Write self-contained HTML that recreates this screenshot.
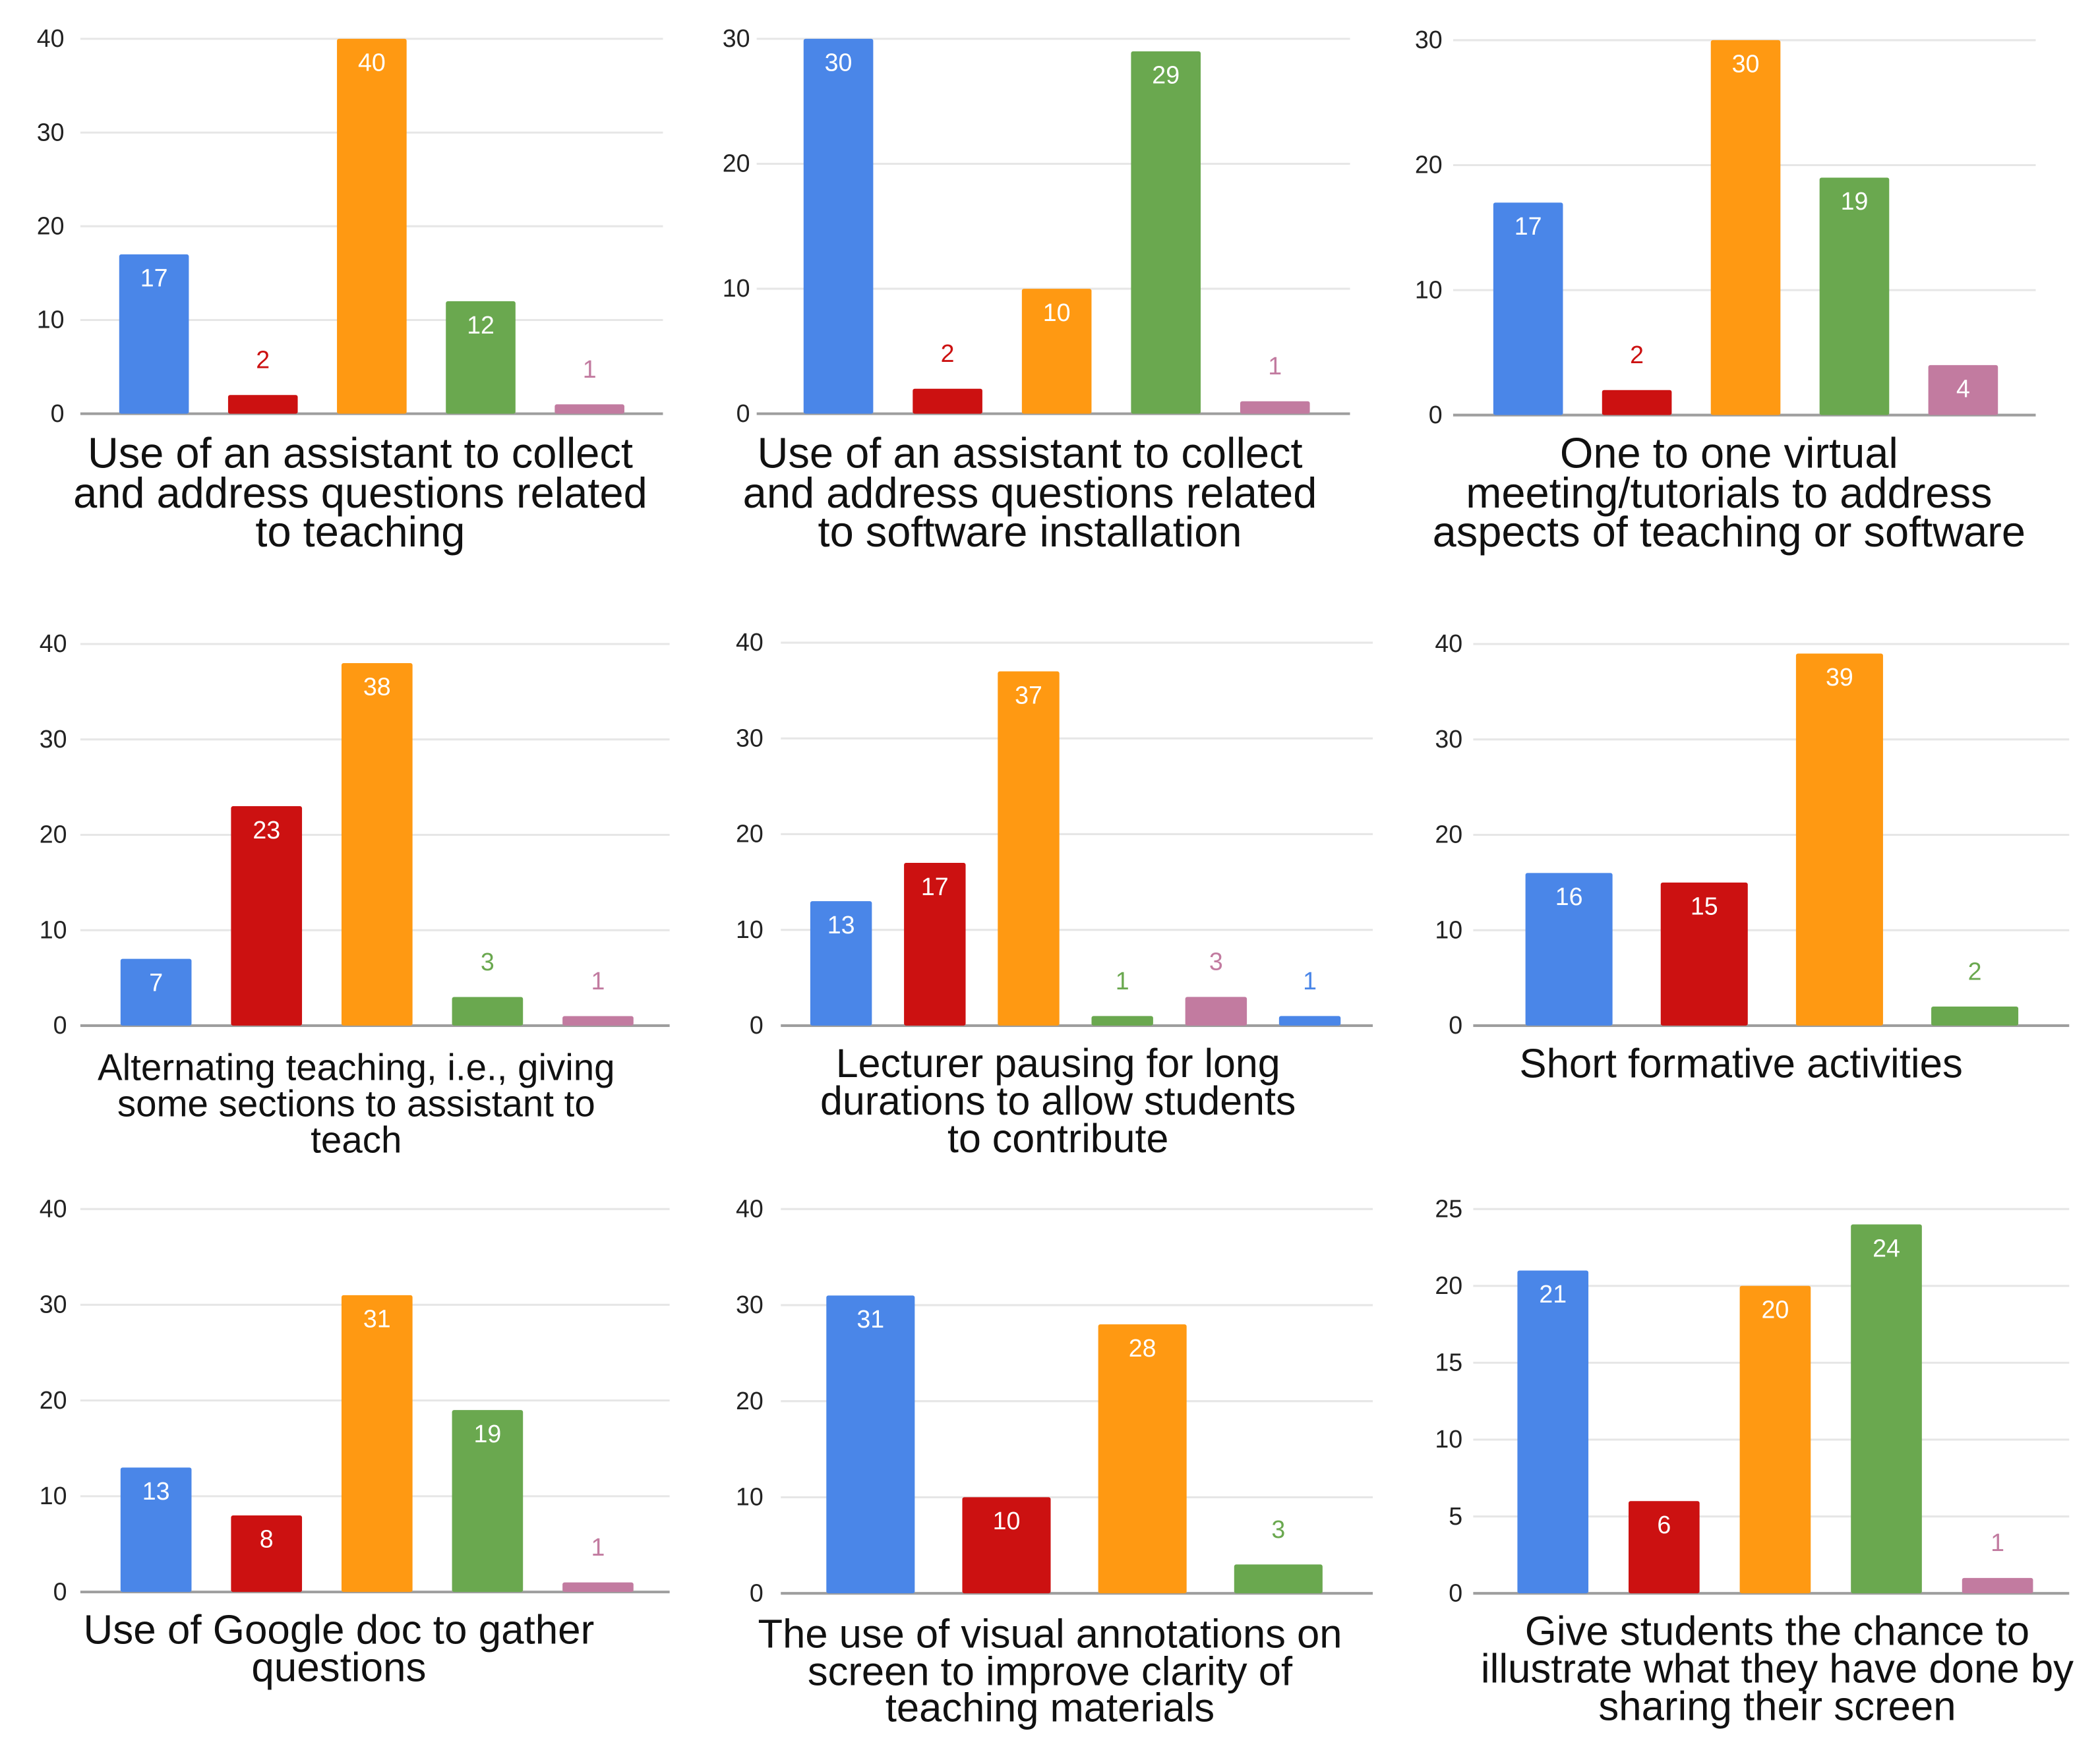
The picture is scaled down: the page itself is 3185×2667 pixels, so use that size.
<!DOCTYPE html>
<html><head><meta charset="utf-8">
<style>
html,body{margin:0;padding:0;background:#fff;}
svg{display:block;}
text{font-family:"Liberation Sans",Arial,sans-serif;}
</style></head>
<body>
<svg id="chart" width="3185" height="2667" viewBox="0 0 1568 1313" preserveAspectRatio="none" xmlns="http://www.w3.org/2000/svg"></svg>
<script>
// ---- data ----
const values1 = [17, 2, 40, 12, 1];
const values2 = [30, 2, 10, 29, 1];
const values3 = [17, 2, 30, 19, 4];
const values4 = [7, 23, 38, 3, 1];
const values5 = [13, 17, 37, 1, 3, 1];
const values6 = [16, 15, 39, 2];
const values7 = [13, 8, 31, 19, 1];
const values8 = [31, 10, 28, 3];
const values9 = [21, 6, 20, 24, 1];
const ticks40 = [0, 10, 20, 30, 40];
const ticks30 = [0, 10, 20, 30];
const ticks25 = [0, 5, 10, 15, 20, 25];
const titles = [
  ["Use of an assistant to collect","and address questions related","to teaching"],
  ["Use of an assistant to collect","and address questions related","to software installation"],
  ["One to one virtual","meeting/tutorials to address","aspects of teaching or software"],
  ["Alternating teaching, i.e., giving","some sections to assistant to","teach"],
  ["Lecturer pausing for long","durations to allow students","to contribute"],
  ["Short formative activities"],
  ["Use of Google doc to gather","questions"],
  ["The use of visual annotations on","screen to improve clarity of","teaching materials"],
  ["Give students the chance to","illustrate what they have done by","sharing their screen"]
];
const palette = ["#4a86e8","#cc1111","#ff9912","#6aa84f","#c27ba0","#4a86e8"];

// ---- layout ----
const panels = [
  {v:values1,t:ticks40,x0:60,x1:495,yTop:29,yBot:309,b0:89,step:81.3,bw:52,lx:48,ty:[338,368,397],fs:32,tc:269},
  {v:values2,t:ticks30,x0:565,x1:1008,yTop:29,yBot:309,b0:600,step:81.5,bw:52,lx:560,ty:[338,368,397],fs:32,tc:769},
  {v:values3,t:ticks30,x0:1085,x1:1520,yTop:30,yBot:310,b0:1115,step:81.2,bw:52,lx:1077,ty:[338,368,397],fs:32,tc:1291},
  {v:values4,t:ticks40,x0:60,x1:500,yTop:481,yBot:766,b0:90,step:82.5,bw:53,lx:50,ty:[797,824,851],fs:27.8,tc:266},
  {v:values5,t:ticks40,x0:583,x1:1025,yTop:480,yBot:766,b0:605,step:70,bw:46,lx:570,ty:[794,822,850],fs:30,tc:790},
  {v:values6,t:ticks40,x0:1100,x1:1545,yTop:481,yBot:766,b0:1139,step:101,bw:65,lx:1092,ty:[794],fs:30.4,tc:1300},
  {v:values7,t:ticks40,x0:60,x1:500,yTop:903,yBot:1189,b0:90,step:82.5,bw:53,lx:50,ty:[1217,1245],fs:30.5,tc:253},
  {v:values8,t:ticks40,x0:583,x1:1025,yTop:903,yBot:1190,b0:617,step:101.5,bw:66,lx:570,ty:[1220,1248,1275],fs:30.3,tc:784},
  {v:values9,t:ticks25,x0:1100,x1:1545,yTop:903,yBot:1190,b0:1133,step:83,bw:53,lx:1092,ty:[1218,1246,1274],fs:30.4,tc:1327}
];
const svg = document.getElementById('chart');
const NS = "http://www.w3.org/2000/svg";
function mk(tag, attrs){const e=document.createElementNS(NS,tag);for(const k in attrs)e.setAttribute(k,attrs[k]);svg.appendChild(e);return e;}

panels.forEach((p, pi) => {
  const max = p.t[p.t.length-1];
  const y = v => p.yBot - (v/max)*(p.yBot-p.yTop);
  p.t.forEach(tv => {
    const gl = mk('line',{x1:p.x0,x2:p.x1,y1:y(tv),y2:y(tv),stroke: tv===0?'#9e9e9e':'#e6e6e6','stroke-width': tv===0?2:1.5});
    
    
    const tl = mk('text',{x:p.lx,y:y(tv)+6,'text-anchor':'end','font-size':18.5,fill:'#222'});
    tl.textContent = tv;
    
    
  });
  p.v.forEach((v, i) => {
    const bx = p.b0 + i*p.step;
    const col = palette[i];
    const r = mk('rect',{x:bx,y:y(v),width:p.bw,height:p.yBot-y(v),fill:col,rx:1.5});
    
    
    const h = p.yBot - y(v);
    const inside = h > 35;
    const lt = mk('text',{x:bx+p.bw/2,y: inside ? y(v)+24 : y(v)-20,'text-anchor':'middle','font-size':18.5,fill: inside ? '#fff' : col});
    lt.textContent = v;
    
    
  });
  titles[pi].forEach((line, li) => {
    const tt = mk('text',{x:p.tc,y:p.ty[li]+ p.fs*0.35,'text-anchor':'middle','font-size':p.fs,fill:'#111'});
    tt.textContent = line;
    
    
  });
});
</script>
</body></html>
